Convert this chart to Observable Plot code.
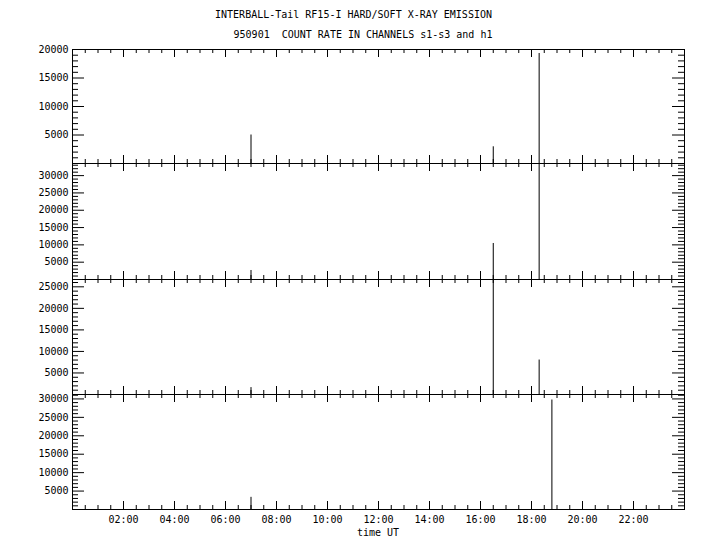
<!DOCTYPE html>
<html><head><meta charset="utf-8">
<script src="https://cdn.jsdelivr.net/npm/d3@7"></script>
<script src="https://cdn.jsdelivr.net/npm/@observablehq/plot@0.6"></script>
<style>
body{margin:0;background:#fff;}
#wrap{position:relative;width:720px;height:550px;background:#fff;font-family:"DejaVu Sans Mono",monospace;font-size:10px;color:#000;overflow:hidden}
.t{position:absolute;white-space:pre;transform:translate(-50%,-50%);line-height:1}
#wrap svg{position:absolute;left:0;}
</style></head><body><div id="wrap">
<div class="t" style="left:353.5px;top:15px">INTERBALL-Tail RF15-I HARD/SOFT X-RAY EMISSION</div>
<div class="t" style="left:363px;top:35px">950901  COUNT RATE IN CHANNELS s1-s3 and h1</div>
<div class="t" style="left:378px;top:533px">time UT</div>
</div>
<script>
// Spike times (hours UT) and count rates for each channel
const timesS1 = [7.0, 16.5, 18.3];
const valuesS1 = [5000, 2930, 19300];
const timesS2 = [7.0, 16.5, 18.3];
const valuesS2 = [2600, 10400, 33500];
const timesS3 = [7.0, 16.5, 18.3];
const valuesS3 = [1600, 26700, 8000];
const timesH1 = [7.0, 18.8];
const valuesH1 = [3300, 29700];

const yMaxes = [20000, 33500, 26700, 31200];
const xLabelHours = [2, 4, 6, 8, 10, 12, 14, 16, 18, 20, 22];
const xMajorHours = [2, 4, 6, 8, 10, 12, 14, 16, 18, 20, 22];
const xMinorHours = d3.range(0.5, 24, 0.5).filter(h => h % 2 !== 0);

const panelTops = [49, 163, 279, 394];
const panelBottoms = [163, 279, 394, 509];

const times = [timesS1, timesS2, timesS3, timesH1];
const values = [valuesS1, valuesS2, valuesS3, valuesH1];

const wrap = document.getElementById("wrap");
for (let i = 0; i < 4; i++) {
  const top = panelTops[i], bottom = panelBottoms[i], last = i === 3;
  const mt = 10, mb = last ? 45 : 10;
  const h = bottom - top;
  const W = 720, ml = 72, mr = 36, w = W - ml - mr;
  const ymax = yMaxes[i];
  const yMajor = d3.range(5000, ymax + 1, 5000);
  const yMinor = d3.range(1000, ymax, 1000).filter(v => v % 5000 !== 0);
  const data = times[i].map((t, j) => ({t, v: values[i][j]}));
  const marks = [
    Plot.ruleX(data, {x: "t", y1: 0, y2: "v", stroke: "black", strokeWidth: 1, clip: true}),
    Plot.ruleX(xMajorHours, {x: d => d, insetTop: h - 8, stroke: "black"}),
    Plot.ruleX(xMinorHours, {x: d => d, insetTop: h - 4, stroke: "black"}),
    Plot.ruleX(xMajorHours, {x: d => d, insetBottom: h - 8, stroke: "black"}),
    Plot.ruleX(xMinorHours, {x: d => d, insetBottom: h - 4, stroke: "black"}),
    Plot.ruleY(yMajor, {y: d => d, insetRight: w - 12, stroke: "black"}),
    Plot.ruleY(yMinor, {y: d => d, insetRight: w - 6, stroke: "black"}),
    Plot.ruleY(yMajor, {y: d => d, insetLeft: w - 12, stroke: "black"}),
    Plot.ruleY(yMinor, {y: d => d, insetLeft: w - 6, stroke: "black"}),
    Plot.axisY({ticks: yMajor, tickSize: 0, tickPadding: 4, tickFormat: d => String(d), label: null, fill: "black"}),
    Plot.frame({stroke: "black"})
  ];
  if (last) {
    marks.push(Plot.axisX({ticks: xLabelHours, tickSize: 0, tickPadding: 6, label: null, fill: "black",
      tickFormat: d => String(d).padStart(2, "0") + ":00"}));
  }
  const svg = Plot.plot({
    width: W,
    height: h + mt + mb,
    marginLeft: ml, marginRight: mr, marginTop: mt, marginBottom: mb,
    x: {domain: [0, 24], axis: null},
    y: {domain: [0, ymax], axis: null},
    style: {fontFamily: "DejaVu Sans Mono, monospace", fontSize: "10px", color: "black", background: "transparent", overflow: "visible"},
    marks
  });
  svg.style.position = "absolute";
  svg.style.top = (top - mt) + "px";
  svg.style.left = "0px";
  wrap.appendChild(svg);
}
</script>
</body></html>
